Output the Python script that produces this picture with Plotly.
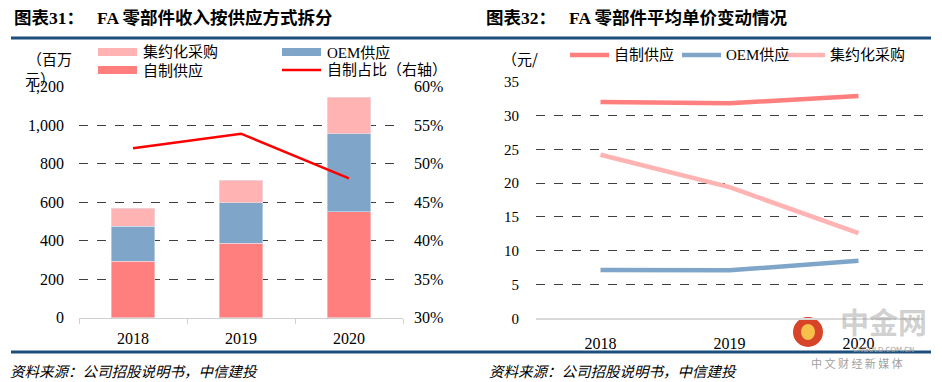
import plotly.graph_objects as go

W, H = 942, 382

# ---- data ----
years = ["2018", "2019", "2020"]
self_supply = [294, 386, 551]        # 自制供应 (百万元)
oem_supply = [182, 211, 405]         # OEM供应
central_purchase = [92, 118, 189]    # 集约化采购
self_ratio = [0.520, 0.539, 0.481]   # 自制占比 (右轴)

price_self = [32.0, 31.8, 32.9]      # 元/件
price_oem = [7.15, 7.1, 8.5]
price_central = [24.2, 19.4, 12.6]

left_yticks = [0, 200, 400, 600, 800, 1000, 1200]
left_yticklabels = ["0", "200", "400", "600", "800", "1,000", "1,200"]
right_pct_ticks = [0.30, 0.35, 0.40, 0.45, 0.50, 0.55, 0.60]
price_ticks = [0, 5, 10, 15, 20, 25, 30, 35]

C_SELF = "#FF7F7F"
C_OEM = "#7FA6C8"
C_CENT = "#FFB3B3"
C_RATIO = "#FF0000"
NAVY = "#1C4F7C"
FONT = "Liberation Serif, Noto Sans CJK SC, serif"
CJK = "Noto Sans CJK SC, Liberation Serif, sans-serif"


def px(x):
    return x / W


def py(y):
    return (H - y) / H


fig = go.Figure()

# ---- left chart: stacked bars + ratio line ----
fig.add_trace(go.Bar(x=years, y=self_supply, marker_color=C_SELF, width=0.4,
                     name="自制供应", xaxis="x", yaxis="y", showlegend=False))
fig.add_trace(go.Bar(x=years, y=oem_supply, marker_color=C_OEM, width=0.4,
                     name="OEM供应", xaxis="x", yaxis="y", showlegend=False))
fig.add_trace(go.Bar(x=years, y=central_purchase, marker_color=C_CENT, width=0.4,
                     name="集约化采购", xaxis="x", yaxis="y", showlegend=False))
fig.add_trace(go.Scatter(x=years, y=self_ratio, mode="lines",
                         line=dict(color=C_RATIO, width=2.5),
                         name="自制占比（右轴）", xaxis="x", yaxis="y2", showlegend=False))

# ---- right chart: price lines ----
fig.add_trace(go.Scatter(x=years, y=price_self, mode="lines",
                         line=dict(color=C_SELF, width=4.5), name="自制供应",
                         xaxis="x2", yaxis="y3", showlegend=False))
fig.add_trace(go.Scatter(x=years, y=price_oem, mode="lines",
                         line=dict(color=C_OEM, width=4.5), name="OEM供应",
                         xaxis="x2", yaxis="y3", showlegend=False))
fig.add_trace(go.Scatter(x=years, y=price_central, mode="lines",
                         line=dict(color=C_CENT, width=4.5), name="集约化采购",
                         xaxis="x2", yaxis="y3", showlegend=False))

tickfont = dict(family=FONT, size=16, color="#000000")
grid = dict(showgrid=True, gridcolor="#404040", griddash="dash", gridwidth=1)

fig.update_layout(
    width=W, height=H,
    margin=dict(l=0, r=0, t=0, b=0, pad=0, autoexpand=False),
    paper_bgcolor="white", plot_bgcolor="white",
    barmode="stack",
    showlegend=False,
    hovermode=False,
    xaxis=dict(domain=[px(79), px(403)], anchor="y", type="category", range=[-0.5, 2.5],
               showline=True, linecolor="#D0D0D0", linewidth=1.5,
               ticks="outside", tickson="boundaries", ticklen=5, tickcolor="#D0D0D0",
               tickfont=tickfont, ticklabelstandoff=6, showgrid=False, automargin=False),
    yaxis=dict(domain=[py(317.7), py(86.7)], anchor="x", range=[0, 1200],
               tickvals=left_yticks, ticktext=left_yticklabels, automargin=False,
               tickfont=tickfont, ticklabelstandoff=14, zeroline=False, **grid),
    yaxis2=dict(overlaying="y", side="right", anchor="x", range=[0.30, 0.60],
                tickvals=right_pct_ticks, tickformat=".0%", tickfont=tickfont, automargin=False,
                ticklabelstandoff=10, showgrid=False, zeroline=False),
    xaxis2=dict(domain=[px(536), px(923)], anchor="y3", type="category", range=[-0.5, 2.5],
                showline=True, linecolor="#D9D9D9", linewidth=1.5, ticks="", automargin=False,
                tickfont=tickfont, ticklabelstandoff=10, showgrid=False),
    yaxis3=dict(domain=[py(318.3), py(81.7)], anchor="x2", range=[0, 35], automargin=False,
                tickvals=price_ticks, tickfont=dict(family=FONT, size=15, color="#000"),
                ticklabelstandoff=16, zeroline=False, **grid),
)

shapes = []
annotations = []

# title rules
shapes.append(dict(type="line", xref="paper", yref="paper", x0=px(11), x1=px(931),
                   y0=py(38), y1=py(38), line=dict(color=NAVY, width=3)))
shapes.append(dict(type="line", xref="paper", yref="paper", x0=px(11), x1=px(931),
                   y0=py(352), y1=py(352), line=dict(color=NAVY, width=3)))

# titles
annotations.append(dict(text="<b>图表31：   FA 零部件收入按供应方式拆分</b>", x=px(12), y=py(18),
                        xref="paper", yref="paper", xanchor="left", yanchor="middle",
                        showarrow=False, font=dict(family=FONT, size=17.5, color="#000")))
annotations.append(dict(text="<b>图表32：   FA 零部件平均单价变动情况</b>", x=px(484), y=py(18),
                        xref="paper", yref="paper", xanchor="left", yanchor="middle",
                        showarrow=False, font=dict(family=FONT, size=17.5, color="#000")))

# sources
for sx in (8, 487):
    annotations.append(dict(text="<i>资料来源：公司招股说明书，中信建投</i>", x=px(sx), y=py(370),
                            xref="paper", yref="paper", xanchor="left", yanchor="middle",
                            showarrow=False, font=dict(family=CJK, size=14.5, color="#000")))

# unit labels
annotations.append(dict(text="（百万", x=px(25), y=py(58), xref="paper", yref="paper",
                        xanchor="left", yanchor="middle", showarrow=False,
                        font=dict(family=CJK, size=15, color="#000")))
annotations.append(dict(text="元）", x=px(23), y=py(78), xref="paper", yref="paper",
                        xanchor="left", yanchor="middle", showarrow=False,
                        font=dict(family=CJK, size=15, color="#000")))
annotations.append(dict(text="（元/", x=px(500), y=py(58), xref="paper", yref="paper",
                        xanchor="left", yanchor="middle", showarrow=False,
                        font=dict(family=CJK, size=15, color="#000")))

legfont = dict(family=FONT, size=15, color="#000")

# left legend
left_leg = [
    (98, 52, C_CENT, 8, "集约化采购"),
    (282, 52, C_OEM, 8, "OEM供应"),
    (98, 70, C_SELF, 8, "自制供应"),
    (282, 70, C_RATIO, 2.5, "自制占比（右轴）"),
]
for x0, y0, col, wdt, label in left_leg:
    shapes.append(dict(type="line", xref="paper", yref="paper", x0=px(x0), x1=px(x0 + 39),
                       y0=py(y0), y1=py(y0), line=dict(color=col, width=wdt)))
    annotations.append(dict(text=label, x=px(x0 + 43), y=py(y0), xref="paper", yref="paper",
                            xanchor="left", yanchor="middle", showarrow=False, font=legfont))

# right legend
right_leg = [
    (570, C_SELF, "自制供应"),
    (682, C_OEM, "OEM供应"),
    (786, C_CENT, "集约化采购"),
]
for x0, col, label in right_leg:
    shapes.append(dict(type="line", xref="paper", yref="paper", x0=px(x0), x1=px(x0 + 39),
                       y0=py(55), y1=py(55), line=dict(color=col, width=4.5)))
    annotations.append(dict(text=label, x=px(x0 + 42), y=py(55), xref="paper", yref="paper",
                            xanchor="left", yanchor="middle", showarrow=False, font=legfont))

# watermark
shapes.append(dict(type="circle", xref="paper", yref="paper", x0=px(793), x1=px(823),
                   y0=py(347), y1=py(317), fillcolor="#D63A1E", line=dict(width=0), layer="below",
                   opacity=0.95))
shapes.append(dict(type="circle", xref="paper", yref="paper", x0=px(801), x1=px(815),
                   y0=py(340), y1=py(324), fillcolor="#F6C04A", line=dict(width=0), layer="below"))
annotations.append(dict(text="<b>中金网</b>", x=px(883), y=py(321), xref="paper", yref="paper",
                        xanchor="center", yanchor="middle", showarrow=False,
                        font=dict(family=CJK, size=29, color="rgba(150,150,150,0.45)")))
annotations.append(dict(text="CNGOLD.COM.CN", x=px(883), y=py(350), xref="paper", yref="paper",
                        xanchor="center", yanchor="middle", showarrow=False,
                        font=dict(family="DejaVu Sans", size=7, color="#A0A0A0")))
annotations.append(dict(text="中 文 财 经 新 媒 体", x=px(857), y=py(363), xref="paper", yref="paper",
                        xanchor="center", yanchor="middle", showarrow=False,
                        font=dict(family=CJK, size=11, color="#A0A0A0")))

fig.update_layout(shapes=shapes, annotations=annotations)

fig.write_html("out.html", config={"displayModeBar": False, "staticPlot": True},
               post_script="document.body.style.margin='0';document.body.style.overflow='hidden';")
